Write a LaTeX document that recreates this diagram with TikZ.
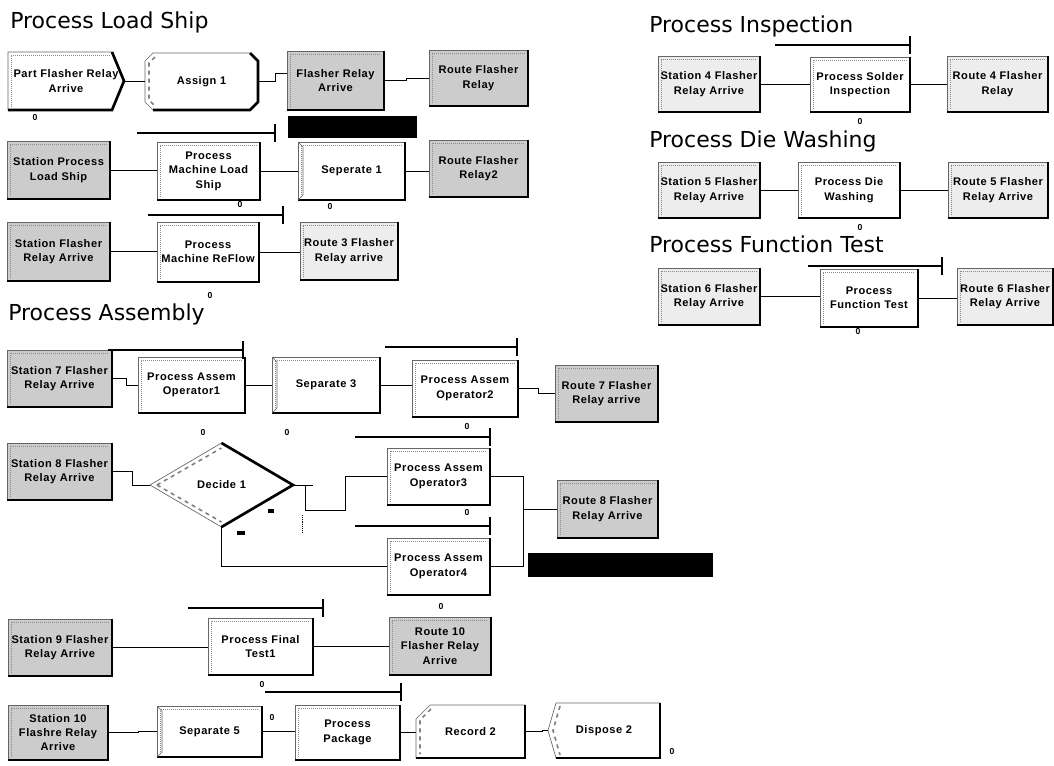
\documentclass[tikz,border=0pt]{standalone}
\usepackage{fontspec}
\setmainfont{Liberation Sans}
\newfontfamily\titlefont{DejaVu Sans}
\usetikzlibrary{calc}
\pgfdeclarelayer{bg}
\pgfsetlayers{bg,main}

% label fonts
\newcommand\lbl{\fontsize{8.3}{10.8}\selectfont\bfseries\addfontfeature{LetterSpace=5}}
\newcommand\cntf{\fontsize{6.5}{7}\selectfont\bfseries}

% module box from its pixel corners: style, name, x1, y1, x2, y2, text
\newcommand\modbox[7]{%
  \node[#1, minimum width={(#5-#3)*0.75pt}, minimum height={(#6-#4)*0.75pt}]
    (#2) at ({(#3+#5)/2},{(#4+#6)/2}) {#7};}

\tikzset{
  mod/.style={draw=black!60, line width=0.5pt, fill=white, inner sep=0pt,
    outer sep=0pt, align=center, font=\lbl},
  modgray/.style={mod, fill=black!20},
  modlight/.style={mod, fill=black!7},
  ghost/.style={inner sep=0pt, outer sep=0pt, align=center, font=\lbl},
  outline/.style={draw=black!60, line width=0.5pt, fill=white},
  darkrim/.style={line width=2pt, black},
  bevel/.style={black!45, line width=0.5pt, densely dotted},
  link/.style={line width=0.7pt, black},
  queue/.style={line width=1pt, black},
  cnt/.style={font=\cntf, inner sep=0pt},
  sect/.style={font=\titlefont\fontsize{16.5}{19}\selectfont, anchor=base west, inner sep=0pt},
}

\begin{document}
\begin{tikzpicture}[x=0.75pt,y=-0.75pt]
\useasboundingbox (0,0) rectangle (1054,765);
\begin{pgfonlayer}{bg}
  \fill[white] (0,0) rectangle (1054,765);
\end{pgfonlayer}

% ---------------- section titles ----------------
\node[sect] (tLoad) at (10,28) {Process Load Ship};
\node[sect] (tInsp) at (649,32) {Process Inspection};
\node[sect] (tWash) at (649,147) {Process Die Washing};
\node[sect] (tFunc) at (649,252) {Process Function Test};
\node[sect] (tAsm)  at (8,320) {Process Assembly};

% ---------------- Process Load Ship ----------------
\modbox{ghost}{pf}{8}{52}{124}{110}{Part Flasher Relay\\Arrive}
\modbox{ghost}{as1}{145}{53}{258}{110}{Assign 1}
\modbox{modgray}{fra}{287}{51}{384}{110}{Flasher Relay\\Arrive}
\modbox{modgray}{rfr}{429}{50}{528}{106}{Route Flasher\\Relay}
\modbox{modgray}{spl}{7}{141}{110}{199}{Station Process\\Load Ship}
\modbox{mod}{pml}{157}{142}{260}{200}{Process\\Machine Load\\Ship}
\modbox{mod}{sp1}{298}{142}{405}{200}{Seperate 1}
\modbox{modgray}{rf2}{429}{140}{528}{197}{Route Flasher\\Relay2}
\modbox{modgray}{sfr}{7}{222}{110}{281}{Station Flasher\\Relay Arrive}
\modbox{mod}{pmr}{157}{222}{259}{282}{Process\\Machine ReFlow}
\modbox{modlight}{r3}{300}{222}{398}{280}{Route 3 Flasher\\Relay arrive}

% ---------------- right column ----------------
\modbox{modlight}{s4}{658}{56}{760}{112}{Station 4 Flasher\\Relay Arrive}
\modbox{mod}{psi}{810}{57}{910}{112}{Process Solder\\Inspection}
\modbox{modlight}{r4}{947}{56}{1048}{112}{Route 4 Flasher\\Relay}
\modbox{modlight}{s5}{658}{162}{760}{218}{Station 5 Flasher\\Relay Arrive}
\modbox{mod}{pdw}{798}{162}{900}{218}{Process Die\\Washing}
\modbox{modlight}{r5}{948}{162}{1048}{218}{Route 5 Flasher\\Relay Arrive}
\modbox{modlight}{s6}{658}{268}{760}{325}{Station 6 Flasher\\Relay Arrive}
\modbox{mod}{pft}{820}{269}{918}{327}{Process\\Function Test}
\modbox{modlight}{r6}{957}{268}{1053}{325}{Route 6 Flasher\\Relay Arrive}

% ---------------- Process Assembly ----------------
\modbox{modgray}{st7}{7}{350}{112}{407}{Station 7 Flasher\\Relay Arrive}
\modbox{mod}{op1}{138}{357}{245}{413}{Process Assem\\Operator1}
\modbox{mod}{sp3}{272}{357}{380}{413}{Separate 3}
\modbox{mod}{op2}{412}{360}{518}{417}{Process Assem\\Operator2}
\modbox{modgray}{rt7}{555}{365}{658}{422}{Route 7 Flasher\\Relay arrive}
\modbox{modgray}{st8}{7}{443}{112}{500}{Station 8 Flasher\\Relay Arrive}
\modbox{ghost}{dec}{150}{443}{293}{527}{Decide 1}
\modbox{mod}{op3}{387}{448}{490}{505}{Process Assem\\Operator3}
\modbox{mod}{op4}{387}{538}{490}{595}{Process Assem\\Operator4}
\modbox{modgray}{rt8}{557}{480}{658}{538}{Route 8 Flasher\\Relay Arrive}
\modbox{modgray}{st9}{8}{619}{112}{676}{Station 9 Flasher\\Relay Arrive}
\modbox{mod}{ft}{208}{618}{313}{675}{Process Final\\Test1}
\modbox{modgray}{rt10}{389}{617}{491}{675}{Route 10\\Flasher Relay\\Arrive}
\modbox{modgray}{st10}{8}{705}{108}{760}{Station 10\\Flashre Relay\\Arrive}
\modbox{mod}{sp5}{157}{706}{262}{757}{Separate 5}
\modbox{mod}{pkg}{295}{705}{400}{760}{Process\\Package}
\modbox{ghost}{rec}{416}{705}{525}{758}{Record 2}
\modbox{ghost}{dsp}{548}{703}{660}{758}{Dispose 2}

% ---------------- outlines of the non-rectangular modules ----------------
\begin{pgfonlayer}{bg}
  % create
  \draw[outline] (pf.north west) -- ($(pf.north east)+(-12,0)$) -- (pf.east)
    -- ($(pf.south east)+(-12,0)$) -- (pf.south west) -- cycle;
  % assign
  \draw[outline] ($(as1.north west)+(8,0)$) -- ($(as1.north east)+(-8,0)$)
    -- ($(as1.north east)+(0,8)$) -- ($(as1.south east)+(0,-8)$)
    -- ($(as1.south east)+(-8,0)$) -- ($(as1.south west)+(8,0)$)
    -- ($(as1.south west)+(0,-8)$) -- ($(as1.north west)+(0,8)$) -- cycle;
  % decide
  \draw[outline] (dec.west) -- (dec.north) -- (dec.east) -- (dec.south) -- cycle;
  % record
  \draw[outline] ($(rec.north west)+(14,0)$) -- (rec.north east) -- (rec.south east)
    -- (rec.south west) -- ($(rec.north west)+(0,14)$) -- cycle;
  % dispose
  \draw[outline] ($(dsp.north west)+(8,0)$) -- (dsp.north east) -- (dsp.south east)
    -- ($(dsp.south west)+(8,0)$) -- (dsp.west) -- cycle;
\end{pgfonlayer}

% dark lower-right rims of the rectangular modules
\foreach \n in {fra,rfr,spl,pml,sp1,rf2,sfr,pmr,r3,s4,psi,r4,s5,pdw,r5,s6,pft,r6,
                st7,op1,sp3,op2,rt7,st8,op3,op4,rt8,st9,ft,rt10,st10,sp5,pkg}{
  \draw[darkrim] (\n.north east) -- (\n.south east) -- (\n.south west);
  \draw[bevel] ($(\n.south west)+(3,-3)$) -- ($(\n.north west)+(3,3)$)
    -- ($(\n.north east)+(-3,3)$);
}
% separate modules: bevelled left side
\foreach \n in {sp1,sp3,sp5}{
  \draw[black!60, line width=0.5pt] (\n.north west) -- ++(5,5) -- ($(\n.south west)+(5,-5)$) -- (\n.south west);
}

% rims and bevels of the shaped modules
\draw[darkrim] ($(pf.north east)+(-12,0)$) -- (pf.east) -- ($(pf.south east)+(-12,0)$) -- (pf.south west);
\draw[bevel] ($(pf.south west)+(3,-3)$) -- ($(pf.north west)+(3,3)$) -- ($(pf.north east)+(-14,3)$);
\draw[darkrim] ($(as1.north east)+(-8,0)$) -- ($(as1.north east)+(0,8)$) -- ($(as1.south east)+(0,-8)$)
  -- ($(as1.south east)+(-8,0)$) -- ($(as1.south west)+(8,0)$);
\draw[black!50, line width=1.2pt, dashed] ($(as1.north west)+(10,4)$) -- ($(as1.north west)+(4,10)$)
  -- ($(as1.south west)+(4,-10)$) -- ($(as1.south west)+(10,-4)$);
\draw[darkrim] (dec.north) -- (dec.east) -- (dec.south);
\draw[black!50, line width=1.2pt, dashed] ($(dec.west)+(7,0)$) -- ($(dec.north)+(0,5)$);
\draw[black!50, line width=1.2pt, dashed] ($(dec.west)+(7,0)$) -- ($(dec.south)+(0,-5)$);
\draw[darkrim] (rec.north east) -- (rec.south east) -- (rec.south west);
\draw[black!50, line width=1.2pt, dashed] ($(rec.north west)+(15,4)$) -- ($(rec.north west)+(4,15)$)
  -- ($(rec.south west)+(4,-4)$);
\draw[darkrim] (dsp.north east) -- (dsp.south east) -- ($(dsp.south west)+(8,0)$);
\draw[black!50, line width=1.2pt, dashed] ($(dsp.north west)+(12,3)$) -- ($(dsp.west)+(5,0)$)
  -- ($(dsp.south west)+(12,-3)$);

% ---------------- queues ----------------
\foreach \xa/\xb/\yq in {137/275/133, 148/283/215, 775/910/45, 808/942/266,
                        108/243/350, 385/517/347, 355/490/437, 355/490/526,
                        188/323/608, 265/401/692}{
  \draw[queue] (\xa,\yq) -- (\xb,\yq);
  \draw[queue] (\xb,\yq-9) -- (\xb,\yq+9);
}

% black bars
\fill[black] (288,116) rectangle (417,138);
\fill[black] (528,553) rectangle (713,577);

% ---------------- counters ----------------
\foreach \cx/\cy [count=\i] in {35/118, 240/205, 330/207, 210/296, 860/122, 860/228, 858/332,
                    203/433, 287/433, 467/427, 467/513, 441/607, 262/685, 272/718, 672/752}{
  \node[cnt] (c\i) at (\cx,\cy) {0};
}

% decide branch marks
\fill (268,509) rectangle (274,513);
\fill (237,531) rectangle (245,535);

% ---------------- connectors ----------------
\draw[link] (pf.east) -- (pf.east -| as1.west);
\draw[link] (as1.east) -- ++(17,0) |- ($(fra.west)+(0,-7)$);
\draw[link] (fra.east) -- ++(22,0) |- (rfr.west);
\draw[link] (spl.east) -- (spl.east -| pml.west);
\draw[link] (pml.east) -- (pml.east -| sp1.west);
\draw[link] (sp1.east) -- (sp1.east -| rf2.west);
\draw[link] (sfr.east) -- (sfr.east -| pmr.west);
\draw[link] (pmr.east) -- (pmr.east -| r3.west);

\draw[link] (s4.east) -- (s4.east -| psi.west);
\draw[link] (psi.east) -- (psi.east -| r4.west);
\draw[link] (s5.east) -- (s5.east -| pdw.west);
\draw[link] (pdw.east) -- (pdw.east -| r5.west);
\draw[link] (s6.east) -- (s6.east -| pft.west);
\draw[link] (pft.east) -- (pft.east -| r6.west);

\draw[link] (st7.east) -- ++(14,0) |- (op1.west);
\draw[link] (op1.east) -- (op1.east -| sp3.west);
\draw[link] (sp3.east) -- (sp3.east -| op2.west);
\draw[link] (op2.east) -- ++(20,0) |- (rt7.west);
\draw[link] (st8.east) -- ++(20,0) |- (dec.west);
\coordinate (dj) at ($(dec.east)+(12,0)$);
\draw[link] (dec.east) -- ++(20,0);
\draw[link] (dj) -- ++(0,25) -| ($(op3.west)+(-42,0)$) -- (op3.west);
\draw[black, densely dotted] ($(dj)+(-3,30)$) -- ++(0,17);
\draw[link] (dec.south) |- (op4.west);
\coordinate (mj) at ($(op3.east)+(33,0)$);
\draw[link] (op3.east) -- (mj) -- (mj |- op4.east) -- (op4.east);
\draw[link] (mj |- rt8.west) -- (rt8.west);

\draw[link] (st9.east) -- (st9.east -| ft.west);
\draw[link] (ft.east) -- ++(37,0) |- (rt10.west);
\draw[link] (st10.east) -- ++(30,0) |- (sp5.west);
\draw[link] (sp5.east) -- (sp5.east -| pkg.west);
\draw[link] (pkg.east) -- (pkg.east -| rec.west);
\draw[link] (rec.east) -- ++(17,0) |- (dsp.west);
\end{tikzpicture}
\end{document}
